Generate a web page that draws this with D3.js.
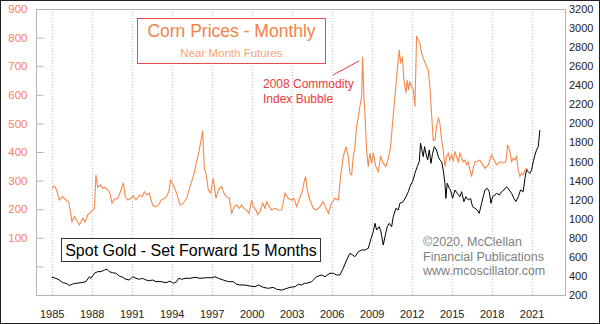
<!DOCTYPE html>
<html><head><meta charset="utf-8">
<script src="https://cdn.jsdelivr.net/npm/d3@7"></script>
<style>
html,body{margin:0;padding:0;background:#fff;}
svg{display:block;font-family:"Liberation Sans",Arial,sans-serif;}
</style></head>
<body><svg id="c" width="600" height="324"></svg>
<script>
// ---- data (x positions in decimal years as plotted) ----
const cornYears = [1985.00,1985.20,1985.37,1985.57,1985.82,1986.07,1986.27,1986.40,1986.52,1986.70,1986.87,1987.07,1987.32,1987.52,1987.70,1987.95,1988.20,1988.32,1988.45,1988.65,1988.82,1989.00,1989.20,1989.37,1989.52,1989.70,1989.95,1990.20,1990.37,1990.52,1990.70,1990.95,1991.12,1991.32,1991.57,1991.77,1991.95,1992.12,1992.32,1992.45,1992.62,1992.82,1993.02,1993.20,1993.45,1993.62,1993.82,1993.90,1994.12,1994.37,1994.62,1994.87,1995.12,1995.37,1995.62,1995.87,1996.07,1996.25,1996.32,1996.45,1996.57,1996.75,1996.92,1997.12,1997.32,1997.50,1997.75,1997.92,1998.12,1998.32,1998.50,1998.70,1998.87,1999.07,1999.25,1999.42,1999.62,1999.80,2000.00,2000.12,2000.32,2000.45,2000.62,2000.82,2001.00,2001.12,2001.32,2001.50,2001.75,2002.00,2002.25,2002.50,2002.75,2003.00,2003.17,2003.37,2003.57,2003.80,2003.95,2004.05,2004.17,2004.37,2004.62,2004.87,2005.12,2005.37,2005.57,2005.75,2006.00,2006.25,2006.50,2006.67,2006.87,2007.07,2007.25,2007.37,2007.50,2007.62,2007.75,2007.87,2008.00,2008.12,2008.25,2008.32,2008.42,2008.52,2008.62,2008.75,2008.87,2009.00,2009.12,2009.32,2009.50,2009.67,2009.87,2010.07,2010.25,2010.42,2010.57,2010.75,2010.92,2011.07,2011.17,2011.30,2011.42,2011.57,2011.67,2011.77,2011.87,2012.00,2012.12,2012.25,2012.37,2012.50,2012.62,2012.75,2012.92,2013.12,2013.25,2013.37,2013.50,2013.62,2013.75,2013.87,2014.00,2014.12,2014.25,2014.37,2014.50,2014.62,2014.75,2014.87,2015.00,2015.12,2015.25,2015.37,2015.50,2015.62,2015.75,2015.87,2016.00,2016.12,2016.25,2016.37,2016.50,2016.62,2016.75,2016.87,2017.12,2017.25,2017.50,2017.75,2018.00,2018.12,2018.37,2018.62,2018.87,2019.07,2019.20,2019.37,2019.50,2019.62,2019.75,2019.87,2020.00,2020.12,2020.25,2020.37,2020.50,2020.62,2020.75];
const cornValues = [273,281,267,232,244,232,226,191,156,174,162,145,168,156,180,191,203,320,276,285,273,276,267,256,221,235,238,267,293,244,232,238,247,232,250,244,261,250,256,232,211,209,215,232,238,244,267,302,285,256,215,221,238,279,314,366,407,454,475,343,325,267,256,308,238,267,279,256,244,238,186,209,215,203,215,203,197,186,232,209,197,180,191,221,203,226,209,197,203,197,197,256,238,232,238,209,235,262,300,314,267,232,203,197,209,226,203,186,221,238,232,314,384,419,384,325,320,384,419,489,524,559,594,733,594,513,407,349,396,361,396,349,331,384,361,349,378,419,501,594,687,757,710,733,652,606,652,617,646,628,617,559,803,792,780,745,722,699,687,628,530,440,442,489,518,501,442,407,349,384,396,372,390,366,402,384,366,396,378,366,372,355,366,337,314,343,366,366,372,361,343,355,390,378,355,366,361,366,425,402,366,378,372,384,337,314,325,320,337,343,337];

const goldYears = [1985.00,1985.32,1985.57,1985.82,1986.07,1986.32,1986.57,1986.82,1987.20,1987.57,1987.82,1987.95,1988.20,1988.45,1988.70,1988.95,1989.15,1989.32,1989.57,1989.82,1990.07,1990.32,1990.57,1990.82,1991.07,1991.32,1991.57,1991.82,1992.07,1992.32,1992.57,1992.82,1993.20,1993.57,1993.87,1994.12,1994.37,1994.50,1994.75,1995.00,1995.37,1995.75,1996.12,1996.62,1997.00,1997.25,1997.50,1997.87,1998.25,1998.62,1998.87,1999.12,1999.50,1999.87,2000.25,2000.50,2000.87,2001.25,2001.62,2001.87,2002.25,2002.50,2002.87,2003.25,2003.50,2003.75,2003.95,2004.12,2004.50,2004.87,2005.25,2005.50,2005.87,2006.12,2006.37,2006.62,2006.87,2007.12,2007.37,2007.57,2007.75,2008.00,2008.25,2008.50,2008.75,2008.92,2009.12,2009.25,2009.37,2009.57,2009.70,2009.87,2010.00,2010.17,2010.32,2010.50,2010.62,2010.82,2011.00,2011.12,2011.37,2011.57,2011.75,2011.92,2012.07,2012.25,2012.42,2012.57,2012.67,2012.77,2012.87,2012.97,2013.07,2013.20,2013.32,2013.45,2013.57,2013.70,2013.87,2014.00,2014.12,2014.25,2014.37,2014.50,2014.57,2014.67,2014.82,2014.92,2015.07,2015.25,2015.42,2015.62,2015.75,2015.92,2016.07,2016.25,2016.42,2016.57,2016.75,2016.92,2017.07,2017.25,2017.37,2017.50,2017.67,2017.82,2017.95,2018.07,2018.25,2018.37,2018.57,2018.75,2018.92,2019.12,2019.32,2019.50,2019.67,2019.82,2020.00,2020.17,2020.37,2020.50,2020.62,2020.75,2020.87,2021.00,2021.12,2021.25,2021.37,2021.50,2021.62];
const goldValues = [386,375,357,329,323,300,315,323,329,340,392,375,428,445,445,462,470,445,434,428,399,386,365,357,392,375,365,375,357,350,357,340,340,329,345,323,340,375,365,375,375,386,375,381,381,392,375,357,340,340,312,305,305,294,287,305,280,270,280,260,252,263,280,287,312,305,323,323,340,392,410,392,428,428,410,410,480,567,637,620,602,654,672,672,690,777,864,952,882,916,864,724,812,916,952,916,1021,1109,1092,1162,1179,1231,1284,1354,1389,1477,1546,1598,1791,1721,1651,1756,1686,1616,1721,1581,1686,1756,1721,1651,1616,1598,1511,1372,1214,1372,1319,1301,1214,1301,1267,1231,1284,1179,1231,1197,1214,1126,1109,1092,1057,1162,1231,1301,1319,1284,1162,1231,1249,1267,1249,1284,1301,1336,1301,1267,1214,1179,1231,1301,1284,1424,1511,1494,1476,1511,1598,1669,1721,1756,1931];

const xTickYears = [1985,1988,1991,1994,1997,2000,2003,2006,2009,2012,2015,2018,2021];
const leftTicks = [0,100,200,300,400,500,600,700,800,900];
const rightTicks = [200,400,600,800,1000,1200,1400,1600,1800,2000,2200,2400,2600,2800,3000,3200];

// ---- layout ----
const L = 36, R = 566, T = 9, B = 295;
const svg = d3.select("#c");
svg.append("rect").attr("x",0).attr("y",0).attr("width",600).attr("height",324).attr("fill","#fff");

const x = d3.scaleLinear().domain([1983.82, 2023.58]).range([L, R]);
const yL = d3.scaleLinear().domain([-100, 900]).range([B, T]);
const yR = d3.scaleLinear().domain([200, 3200]).range([B, T]);

// gridlines
svg.append("g").selectAll("line").data(xTickYears).join("line")
  .attr("x1", d => Math.round(x(d)) + 0.5).attr("x2", d => Math.round(x(d)) + 0.5)
  .attr("y1", T).attr("y2", B)
  .attr("stroke", "#bdbdbd").attr("stroke-dasharray", "1,2").attr("stroke-width", 1);

// left axis
const gl = svg.append("g").attr("transform", `translate(${L + 0.5},0)`)
  .call(d3.axisLeft(yL).tickValues(leftTicks).tickSizeInner(-7).tickSizeOuter(0).tickPadding(9)
    .tickFormat(d => d === 0 ? "" : d));
gl.select(".domain").remove();
gl.selectAll(".tick line").attr("stroke", "#b4b4b4");
gl.selectAll("text").attr("fill", "#f77e62").style("font-size", "11.5px");

// right axis
const gr = svg.append("g").attr("transform", `translate(${R},0)`)
  .call(d3.axisRight(yR).tickValues(rightTicks).tickSize(0).tickPadding(3).tickFormat(d3.format("d")));
gr.select(".domain").remove();
gr.selectAll("text").attr("fill", "#222").style("font-size", "11px");

// bottom axis
const gb = svg.append("g").attr("transform", `translate(0,${B})`)
  .call(d3.axisBottom(x).tickValues(xTickYears).tickSize(0).tickPadding(15).tickFormat(d3.format("d")));
gb.select(".domain").remove();
gb.selectAll("text").attr("fill", "#222").style("font-size", "11px");

// plot frame
svg.append("rect").attr("x", L + 0.5).attr("y", T + 0.5).attr("width", R - L - 1).attr("height", B - T)
  .attr("fill", "none").attr("stroke", "#b4b4b4");

// lines
const cornData = cornYears.map((d, i) => [d, cornValues[i]]);
const goldData = goldYears.map((d, i) => [d, goldValues[i]]);
svg.append("path").datum(cornData)
  .attr("d", d3.line().x(d => x(d[0])).y(d => yL(d[1])))
  .attr("fill", "none").attr("stroke", "#f5894c").attr("stroke-width", 1.1);
svg.append("path").datum(goldData)
  .attr("d", d3.line().x(d => x(d[0])).y(d => yR(d[1])))
  .attr("fill", "none").attr("stroke", "#000").attr("stroke-width", 1);

// corn title box
svg.append("rect").attr("x", 137.5).attr("y", 18.5).attr("width", 188).attr("height", 45)
  .attr("fill", "#fff").attr("stroke", "#ec4a4a");
svg.append("text").attr("x", 231.5).attr("y", 37).attr("text-anchor", "middle")
  .attr("fill", "#f4824a").style("font-size", "17.5px").text("Corn Prices - Monthly");
svg.append("text").attr("x", 231.5).attr("y", 56.5).attr("text-anchor", "middle")
  .attr("fill", "#f8a274").style("font-size", "11.5px").text("Near Month Futures");

// annotation
svg.append("line").attr("x1", 333).attr("y1", 75).attr("x2", 359).attr("y2", 61)
  .attr("stroke", "#ec3a3a").attr("stroke-width", 1);
const ann = svg.append("text").attr("fill", "#ec3a3a").style("font-size", "12px");
ann.append("tspan").attr("x", 263).attr("y", 88).text("2008 Commodity");
ann.append("tspan").attr("x", 263).attr("y", 103).text("Index Bubble");

// gold box
svg.append("rect").attr("x", 61.5).attr("y", 238.5).attr("width", 259).attr("height", 23)
  .attr("fill", "#fff").attr("stroke", "#333");
svg.append("text").attr("x", 191).attr("y", 256).attr("text-anchor", "middle")
  .attr("fill", "#000").style("font-size", "16px").text("Spot Gold - Set Forward 15 Months");

// copyright
const cp = svg.append("text").attr("fill", "#808080").style("font-size", "12.5px");
cp.append("tspan").attr("x", 423).attr("y", 246).text("\u00A92020, McClellan");
cp.append("tspan").attr("x", 423).attr("y", 260.5).text("Financial Publications");
cp.append("tspan").attr("x", 423).attr("y", 275).text("www.mcoscillator.com");

// outer border
svg.append("rect").attr("x", 0.5).attr("y", 0.5).attr("width", 599).attr("height", 323)
  .attr("fill", "none").attr("stroke", "#222");
</script></body></html>
